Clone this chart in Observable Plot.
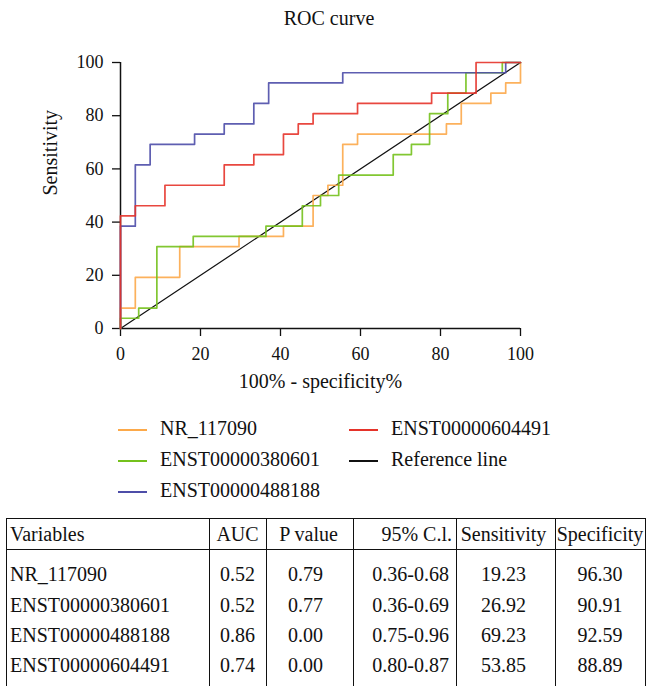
<!DOCTYPE html>
<html>
<head>
<meta charset="utf-8">
<script src="https://cdn.jsdelivr.net/npm/d3@7"></script>
<script src="https://cdn.jsdelivr.net/npm/@observablehq/plot@0.6"></script>
<style>
  html, body { margin: 0; padding: 0; background: #fff; }
  #root { position: relative; width: 648px; height: 686px; overflow: hidden; font-family: "Liberation Serif", serif; color: #111; }
  #root svg { position: absolute; left: 0; top: 0; }
  .abs { position: absolute; white-space: nowrap; }
</style>
</head>
<body>
<div id="root"></div>
<script>
// ---- data ----
const seriesNames = ["NR_117090", "ENST00000380601", "ENST00000488188", "ENST00000604491"];
const seriesColors = ["#FCA94A", "#74C11C", "#4D4DA8", "#E5332A"];
const refName = "Reference line";
const refColor = "#111111";

// ROC points: 100% - specificity% (x) and sensitivity% (y)
const nrX   = [0, 0, 3.70, 14.81, 29.63, 40.74, 48.15, 51.85, 55.56, 59.26, 81.48, 85.19, 92.59, 96.30, 100];
const nrY   = [0, 7.69, 19.23, 30.77, 34.62, 38.46, 50.00, 53.85, 69.23, 73.08, 76.92, 84.62, 88.46, 92.31, 100];
const e380X = [0, 0, 4.55, 9.09, 18.18, 36.36, 45.45, 50.00, 54.55, 68.18, 72.73, 77.27, 81.82, 86.36, 95.45, 100];
const e380Y = [0, 3.85, 7.69, 30.77, 34.62, 38.46, 46.15, 50.00, 57.69, 65.38, 69.23, 80.77, 88.46, 96.15, 100, 100];
const e488X = [0, 0, 3.70, 7.41, 18.52, 25.93, 33.33, 37.04, 55.56, 96.30, 100];
const e488Y = [0, 38.46, 61.54, 69.23, 73.08, 76.92, 84.62, 92.31, 96.15, 100, 100];
const e604X = [0, 0, 3.70, 11.11, 25.93, 33.33, 40.74, 44.44, 48.15, 59.26, 77.78, 88.89, 100];
const e604Y = [0, 42.31, 46.15, 53.85, 61.54, 65.38, 73.08, 76.92, 80.77, 84.62, 88.46, 100, 100];
const refX = [0, 100];
const refY = [0, 100];

const xTicks = [0, 20, 40, 60, 80, 100];
const yTicks = [0, 20, 40, 60, 80, 100];

// table
const tableHeader = ["Variables", "AUC", "P value", "95% C.l.", "Sensitivity", "Specificity"];
const tabVariables = ["NR_117090", "ENST00000380601", "ENST00000488188", "ENST00000604491"];
const tabAUC = ["0.52", "0.52", "0.86", "0.74"];
const tabP = ["0.79", "0.77", "0.00", "0.00"];
const tabCI = ["0.36-0.68", "0.36-0.69", "0.75-0.96", "0.80-0.87"];
const tabSens = ["19.23", "26.92", "69.23", "53.85"];
const tabSpec = ["96.30", "90.91", "92.59", "88.89"];

// ---- build ----
const root = document.getElementById("root");
const FONT = "Liberation Serif";

const toPts = (xs, ys) => xs.map((x, i) => ({x, y: ys[i]}));
const series = [toPts(nrX, nrY), toPts(e380X, e380Y), toPts(e488X, e488Y), toPts(e604X, e604Y)];

const chart = Plot.plot({
  width: 648,
  height: 400,
  marginLeft: 120,
  marginRight: 128,
  marginTop: 62,
  marginBottom: 72,
  style: {fontFamily: FONT, fontSize: "18px", color: "#111", background: "transparent", overflow: "visible"},
  x: {domain: [0, 100]},
  y: {domain: [0, 100]},
  marks: [
    Plot.axisX({ticks: xTicks, tickSize: 8, tickPadding: 11, label: null, fontSize: 18, strokeWidth: 1.3}),
    Plot.axisY({ticks: yTicks, tickSize: 8, tickPadding: 9, label: null, fontSize: 18, strokeWidth: 1.3}),
    Plot.ruleX([0], {stroke: "#111", strokeWidth: 1.5}),
    Plot.ruleY([0], {stroke: "#111", strokeWidth: 1.5}),
    Plot.line(toPts(refX, refY), {x: "x", y: "y", stroke: refColor, strokeWidth: 1.2}),
    ...series.map((pts, i) => Plot.line(pts, {x: "x", y: "y", curve: "step-after", stroke: seriesColors[i], strokeWidth: 1.7, strokeOpacity: 0.9})),
    Plot.text(["Sensitivity"], {frameAnchor: "left", dx: -70, rotate: -90, fontSize: 20, fill: "#111"}),
    Plot.text(["100% - specificity%"], {frameAnchor: "bottom", dy: 59, fontSize: 20, fill: "#111"})
  ]
});
root.appendChild(chart);

// title
const title = document.createElement("div");
title.className = "abs";
title.textContent = "ROC curve";
Object.assign(title.style, {left: "0px", width: "658px", textAlign: "center", top: "3px", height: "30px", lineHeight: "30px", fontSize: "20px"});
root.appendChild(title);

// legend
const legendItems = [
  {name: seriesNames[0], color: seriesColors[0], col: 0, row: 0},
  {name: seriesNames[1], color: seriesColors[1], col: 0, row: 1},
  {name: seriesNames[2], color: seriesColors[2], col: 0, row: 2},
  {name: seriesNames[3], color: seriesColors[3], col: 1, row: 0},
  {name: refName, color: refColor, col: 1, row: 1}
];
const legCols = [118, 349];
const legRows = [428, 459, 490];
legendItems.forEach(it => {
  const sw = document.createElement("div");
  sw.className = "abs";
  Object.assign(sw.style, {left: legCols[it.col] + "px", top: (legRows[it.row] + 1) + "px", width: "29px", height: "2px", background: it.color});
  root.appendChild(sw);
  const tx = document.createElement("div");
  tx.className = "abs";
  tx.textContent = it.name;
  Object.assign(tx.style, {left: (legCols[it.col] + 42) + "px", top: (legRows[it.row] - 15) + "px", height: "30px", lineHeight: "30px", fontSize: "20px"});
  root.appendChild(tx);
});

// table
const colEdges = [6, 209, 266, 353, 456, 555, 645];
const tableTop = 518, headerLine = 549;
const rowCenters = [534, 574, 605, 635, 665];
const aligns = ["left", "center", "center", "right", "center", "center"];
const line = (l, t, w, h) => {
  const d = document.createElement("div");
  d.className = "abs";
  Object.assign(d.style, {left: l + "px", top: t + "px", width: w + "px", height: h + "px", background: "#111"});
  root.appendChild(d);
};
line(colEdges[0], tableTop, colEdges[6] - colEdges[0] + 1, 1);
line(colEdges[0], headerLine, colEdges[6] - colEdges[0] + 1, 1);
colEdges.forEach(x => line(x, tableTop, 1, 686 - tableTop + 10));

const rows = [tableHeader].concat(tabVariables.map((v, i) => [v, tabAUC[i], tabP[i], tabCI[i], tabSens[i], tabSpec[i]]));
rows.forEach((r, ri) => {
  r.forEach((txt, ci) => {
    const c = document.createElement("div");
    c.className = "abs";
    c.textContent = txt;
    const l = colEdges[ci], w = colEdges[ci + 1] - colEdges[ci];
    let pl = 0, pr = 0;
    if (aligns[ci] === "left") pl = 4;
    if (aligns[ci] === "right") pr = ri === 0 ? 4 : 7;
    if (ci === 2) pr = ri === 0 ? 2 : 8;
    if (ci === 4) pr = 4;
    Object.assign(c.style, {
      left: l + "px", width: (w - pl - pr) + "px", paddingLeft: pl + "px", paddingRight: pr + "px",
      top: (rowCenters[ri] - 15) + "px", height: "30px", lineHeight: "30px",
      fontSize: "20px", textAlign: aligns[ci], overflow: "visible"
    });
    root.appendChild(c);
  });
});
</script>
</body>
</html>
